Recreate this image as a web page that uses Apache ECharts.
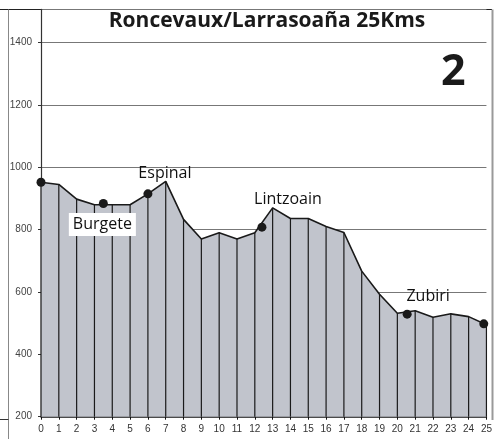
<!DOCTYPE html>
<html>
<head>
<meta charset="utf-8">
<script src="https://cdn.jsdelivr.net/npm/echarts@6/dist/echarts.min.js"></script>
<style>
html,body{margin:0;padding:0;background:#fff;}
#c{width:495px;height:439px;}
</style>
</head>
<body>
<div id="c"></div>
<script>
// Distance in km
var km = [0,1,2,3,4,5,6,7,8,9,10,11,12,13,14,15,16,17,18,19,20,21,22,23,24,25];
// Elevation in metres
var elevation = [952,945,898,880,880,880,915,955,833,770,790,770,790,870,836,836,810,791,667,593,532,540,519,530,521,495];
// Towns
var townNames = ['', 'Burgete', 'Espinal', 'Lintzoain', 'Zubiri', ''];
var townKm = [0, 3.5, 6, 12.4, 20.55, 24.85];
var townElev = [952, 884, 915, 808, 529, 498];
var titleText = 'Roncevaux/Larrasoaña 25Kms';
var stageText = '2';

var labelOffsets = [[0,0],[-1,21],[17,-20],[26,-28],[21,-18],[0,0]];

var chart = echarts.init(document.getElementById('c'));
var lineData = km.map(function(k,i){return [k, elevation[i]];});
var townData = townKm.map(function(k,i){
  var o = {value:[k, townElev[i]], name: townNames[i]};
  if (townNames[i]) {
    o.label = {show:true, position:'inside', offset: labelOffsets[i], formatter: townNames[i],
      fontFamily:'Open Sans', fontSize:16, color:'#111', textBorderWidth:0, opacity:1};
    if (townNames[i] === 'Burgete') {
      o.label.backgroundColor = '#fff';
      o.label.padding = [4,4,3,4];
    }
  }
  return o;
});

chart.setOption({
  animation:false,
  title:{
    text:titleText, left:262, top:6, textAlign:'center',
    textStyle:{fontFamily:'Open Sans', fontWeight:'bold', fontSize:21, color:'#1a1a1a'}
  },
  graphic:[
    {type:'text', left:441, top:51, style:{text:stageText, font:'bold 43px "Open Sans"', fill:'#1a1a1a'}},
    {type:'line', shape:{x1:0,y1:9.5,x2:492,y2:9.5}, style:{stroke:'#222', lineWidth:1}},
    {type:'line', shape:{x1:8.5,y1:9.5,x2:8.5,y2:439}, style:{stroke:'#888', lineWidth:1}},
    {type:'line', shape:{x1:0,y1:419.5,x2:8.5,y2:419.5}, style:{stroke:'#333', lineWidth:1}},
    {type:'line', shape:{x1:492.5,y1:9.5,x2:492.5,y2:420}, style:{stroke:'#999', lineWidth:2}}
  ],
  grid:{left:41, right:4, top:9.3, bottom:22.3},
  xAxis:{
    type:'value', min:0, max:25, interval:1,
    axisLine:{show:true, lineStyle:{color:'#111', width:1.5}},
    axisTick:{show:true, length:3, lineStyle:{color:'#111'}},
    axisLabel:{fontFamily:'Liberation Sans', fontSize:10, color:'#333', margin:8, showMaxLabel:true},
    splitLine:{show:false}
  },
  yAxis:{
    type:'value', min:200, max:1507, interval:200,
    axisLine:{show:true, lineStyle:{color:'#333', width:1.2}},
    axisTick:{show:true, length:3, lineStyle:{color:'#333'}},
    axisLabel:{fontFamily:'Liberation Sans', fontSize:10, color:'#444', margin:9, showMaxLabel:false,
      formatter:function(v){return String(v);}},
    splitLine:{show:true, lineStyle:{color:'#777', width:1}}
  },
  series:[
    {
      type:'line', data:lineData, symbol:'none', z:2,
      lineStyle:{color:'#1a1a1a', width:1.6},
      areaStyle:{color:'#c1c4cc', opacity:1, origin:'start'}
    },
    {
      type:'bar', data:lineData, barWidth:1.2, z:3,
      itemStyle:{color:'#1a1a1a'}
    },
    {
      type:'scatter', data:townData, symbol:'circle', symbolSize:9, z:5,
      itemStyle:{color:'#1a1a1a', opacity:1},
      label:{show:false}
    }
  ]
});
</script>
</body>
</html>
